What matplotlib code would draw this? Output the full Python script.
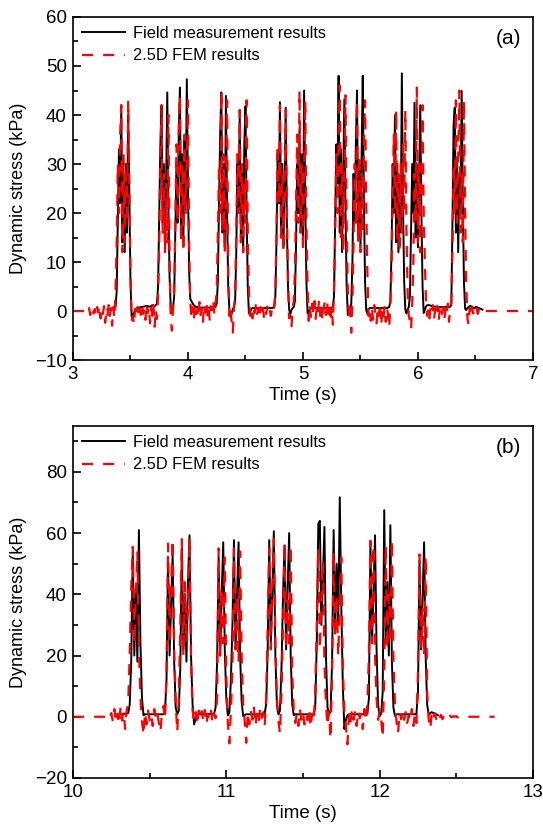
import matplotlib
matplotlib.use('Agg')
import matplotlib.pyplot as plt
import numpy as np

plt.rcParams['font.family'] = ['Liberation Sans', 'DejaVu Sans']

# ---- panel (a): sampled every 0.01 s ----
t0_black_a = 3.30
black_a = [
    0.3, 0.4, 0.3, 0.5, 0.4, 0.5, 0.6, 0.8, 4, 18,            # 3.30
    33, 22, 42, 14, 28, 12, 30, 16, 40, 24,                   # 3.40
    6, -1.2, -1.0, -0.4, 0.2, 0.5, 0.6, 0.7, 0.7, 0.8,        # 3.50
    0.8, 0.9, 0.9, 1.0, 1.0, 1.0, 0.9, 0.9, 1.0, 1.2,         # 3.60
    1.0, 1.0, 1.2, 1.5, 5, 20, 34, 42, 18, 30,                # 3.70
    14, 26, 44.6, 21, 7, 0.8, 0.3, 0.6, 3, 16,                # 3.80
    30, 18, 36, 45.6, 15, 32, 14, 35, 22, 47.3,               # 3.90
    25, 8, 2.5, 2.0, 1.6, 1.2, 1.0, 0.8, 0.8, 0.7,            # 4.00
    0.7, 0.7, 0.7, 0.7, 0.7, 0.7, 0.7, 0.7, 0.7, 0.7,         # 4.10
    0.7, 0.7, 0.7, 0.8, 0.9, 1.5, 6, 22, 36, 44.6,            # 4.20
    16, 30, 13, 43.9, 20, 5, 0.3, -1.2, -0.5, 0.4,            # 4.30
    0.8, 2, 12, 30, 20, 41, 15, 28, 12, 34,                   # 4.40
    41.8, 20, 5, -0.5, -0.3, 0.4, 0.6, 0.6, 0.6, 0.6,         # 4.50
    0.6, 0.6, 0.6, 0.6, 0.6, 0.6, 0.6, 0.6, 0.6, 0.6,         # 4.60
    0.6, 0.6, 0.6, 0.6, 0.7, 0.9, 3, 15, 32, 22,              # 4.70
    42.6, 15, 30, 13, 25, 41.5, 18, 5, 0.3, -0.6,             # 4.80
    0.2, 0.6, 0.8, 2, 14, 30, 20, 37, 16, 32,                 # 4.90
    14, 45, 22, 6, -0.5, -0.3, 0.4, 0.6, 0.6, 0.6,            # 5.00
    0.6, 0.6, 0.6, 0.6, 0.6, 0.6, 0.6, 0.6, 0.6, 0.6,         # 5.10
    0.6, 0.6, 0.6, 0.6, 0.6, 0.7, 0.9, 3, 18, 34,             # 5.20
    26, 48, 16, 33, 12, 28, 43.2, 20, 5, -0.8,                # 5.30
    -0.3, 0.4, 1.5, 10, 28, 18, 34, 45, 15, 30,               # 5.40
    13, 32, 48, 22, 6, 0.2, -0.6, 0.4, 0.6, 0.6,              # 5.50
    0.6, 0.6, 0.6, 0.6, 0.6, 0.6, 0.6, 0.6, 0.6, 0.6,         # 5.60
    0.6, 0.6, 0.6, 0.6, 0.7, 0.8, 2, 12, 30, 20,              # 5.70
    40, 14, 30, 12, 26, 16, 48.5, 22, 6, 0.3,                 # 5.80
    -0.5, 0.3, 0.8, 3, 16, 30, 20, 42.5, 15, 30,              # 5.90
    13, 26, 42, 20, 5, -0.4, 0.3, 0.9, 1.2, 1.2,              # 6.00
    1.2, 1.1, 1.0, 1.0, 0.9, 0.9, 0.9, 0.8, 0.8, 0.8,         # 6.10
    0.8, 0.8, 0.8, 0.8, 0.8, 0.8, 0.8, 0.8, 0.9, 1.2,         # 6.20
    18, 38, 41.5, 16, 30, 12, 28, 20, 44.9, 22,               # 6.30
    6, 0.5, 0.2, 0.6, 0.8, 1.0, 1.0, 0.9, 0.7, 0.5,           # 6.40
    0.8, 0.8, 0.7, 0.6, 0.5, 0.4, 0.3,                        # 6.50
]

t0_red_a = 3.00
red_a = [
    0, 0, 0, 0, 0, 0, 0, 0, 0, 0,                             # 3.00
    0, 0, 0.2, -0.4, 0.6, -0.8, 0.3, 0.9, -0.5, 0.4,          # 3.10
    -1.0, 0.8, -0.3, 1.1, -1.5, 0.5, -0.6, 1.0, -2.4, 0.2,    # 3.20
    -0.8, 1.2, -1.0, 0.6, -3.0, 0.8, -1.5, 4, 14, 30,         # 3.30
    20, 36, 42, 12, 32, 14, 28, 18, 43, 26,                   # 3.40
    8, -2, -1.0, -2.8, 0.4, -1.2, 0.8, -0.5, 1.0, -0.8,       # 3.50
    1.4, -0.6, 0.5, -1.8, 1.5, -0.4, 0.9, -2.5, 0.6, -1.0,    # 3.60
    1.2, -3.2, 0.4, -1.6, 3, 14, 30, 42, 16, 28,              # 3.70
    12, 26, 14, 40, 10, -1.5, -4.0, 0.5, 4, 18,               # 3.80
    34, 18, 38, 44, 14, 30, 12, 36, 20, 32,                   # 3.90
    43, 14, 2, -1.5, 0.8, -2.0, 1.2, -0.6, 0.4, -1.4,         # 4.00
    1.8, -0.8, 0.6, -2.2, 1.4, -0.3, 2.0, -1.2, 0.5, -2.0,    # 4.10
    1.0, 0.2, 2.2, -0.8, 1.5, 4, 16, 30, 20, 45,              # 4.20
    16, 32, 12, 26, 43, 8, -1.0, 0.8, -2.5, -4.4,             # 4.30
    0.5, 3, 16, 32, 20, 41, 14, 30, 12, 26,                   # 4.40
    18, 43, 16, 4, -1.0, 0.6, -1.5, 0.9, -0.4, 1.2,           # 4.50
    -0.8, 0.6, -1.4, 0.8, -0.5, 1.0, -1.2, 0.4, -0.6, 0.9,    # 4.60
    -0.3, 0.5, -1.0, 0.2, -0.6, 0.8, 4, 16, 34, 22,           # 4.70
    42, 14, 28, 12, 24, 41, 20, 6, -1.5, -1.0,                # 4.80
    -3.4, 0.6, 2, 8, 22, 36, 18, 45, 16, 30,                  # 4.90
    12, 28, 43, 18, 5, -2.0, 0.8, -1.2, 1.5, -0.5,            # 5.00
    2.0, -1.6, 0.8, -0.6, 2.4, -1.0, 1.2, -2.0, 0.6, 1.8,     # 5.10
    -0.8, 2.2, -1.5, 0.5, -2.2, 1.0, -2.8, 4, 16, 32,         # 5.20
    20, 36, 46, 14, 30, 12, 26, 44, 18, 4,                    # 5.30
    -1.5, 0.5, -4.4, 2, 14, 30, 18, 43, 14, 32,               # 5.40
    12, 28, 16, 34, 43, 22, 8, -1.0, 0.6, -2.0,               # 5.50
    0.5, -1.8, 1.2, -0.6, -2.5, 0.8, -1.0, 1.5, -3.0, 0.2,    # 5.60
    -1.4, 1.0, -2.2, 0.6, -0.8, -3.4, 1.2, 8, 24, 36,         # 5.70
    20, 41, 14, 28, 12, 30, 16, 34, 20, 41,                   # 5.80
    16, 4, -1.0, -2.0, -3.7, 1.5, 10, 28, 18, 45.6,           # 5.90
    14, 30, 12, 26, 42, 20, 10, 2, -1.0, 0.5,                 # 6.00
    -1.5, 0.8, -0.4, 1.2, -1.8, 0.5, -0.9, 1.0, -2.0, 0.3,    # 6.10
    1.2, -0.6, 0.8, -1.5, 0.4, -1.0, 1.5, -2.2, 0.5, 2,       # 6.20
    12, 30, 20, 43, 18, 32, 45, 16, 28, 14,                   # 6.30
    43, 20, 5, -1.5, -2.8, 0.6, -1.0, 0.8, -0.5, 0.4,         # 6.40
    -0.3, 0.5, -0.6, 0.3, -0.2, 0.2, -0.1, 0, 0, 0,           # 6.50
    0, 0, 0, 0, 0, 0, 0, 0, 0, 0,                             # 6.60
    0, 0, 0, 0, 0, 0, 0, 0, 0, 0,                             # 6.70
    0, 0, 0, 0, 0, 0, 0, 0, 0, 0,                             # 6.80
    0, 0, 0, 0, 0, 0, 0, 0, 0, 0,                             # 6.90
    0,                                                        # 7.00
]

# ---- panel (b): sampled every 0.01 s ----
t0_black_b = 10.30
black_b = [
    0.8, 0.8, 0.8, 0.9, 1.0, 1.0, 1.2, 4, 18, 54,             # 10.30
    20, 42, 18, 61, 24, 6, 0.5, 0.8, 0.8, 0.8,               # 10.40
    0.8, 0.8, 0.8, 0.8, 0.8, 0.8, 0.8, 0.8, 0.8, 0.8,         # 10.50
    1.5, 12, 52, 20, 36, 53, 18, 3, 0.8, 2,                   # 10.60
    16, 55, 22, 40, 18, 44, 59.3, 20, 4, -2.5,                # 10.70
    -0.5, 0.6, 0.8, 0.8, 0.8, 0.8, 0.8, 0.8, 0.8, 0.9,        # 10.80
    0.9, 0.9, 1.0, 3, 18, 52, 20, 40, 57, 22,                 # 10.90
    6, 0.4, 1.5, 12, 30, 57.7, 22, 40, 57, 20,                # 11.00
    5, 0.2, 0.6, 0.8, 0.8, 0.8, 0.8, 0.8, 0.8, 0.8,           # 11.10
    0.8, 0.8, 0.8, 0.8, 0.8, 1.0, 4, 22, 57.7, 24,            # 11.20
    40, 60.6, 20, 4, 0.8, 2, 16, 40, 56, 22,                  # 11.30
    42, 60, 20, 4, 0.5, 0.8, 0.8, 0.8, 0.8, 0.8,              # 11.40
    0.8, 0.8, 0.8, 0.8, 0.8, 0.8, 0.9, 1.0, 3, 24,            # 11.50
    63, 64, 30, 45, 62, 20, 3, 1.0, 1.5, 18,                  # 11.60
    61, 28, 50, 30, 71.7, 36, 10, -4, -1, 0.5,                # 11.70
    0.8, 0.8, 0.8, 0.8, 0.8, 0.8, 0.8, 0.8, 0.8, 0.8,         # 11.80
    0.8, 0.8, 1.0, 6, 57, 24, 40, 59.3, 22, 4,                # 11.90
    0.2, 1.0, 8, 67.5, 24, 44, 20, 62.6, 18, 3,               # 12.00
    0.3, 0.8, 0.8, 0.8, 0.8, 0.8, 0.8, 0.8, 0.8, 0.8,         # 12.10
    0.8, 0.8, 0.8, 0.8, 1.0, 8, 51, 22, 38, 57,               # 12.20
    20, 4, 0.6, 1.2, 1.5, 1.2, 1.0, 0.8, 0.5,                 # 12.30
]

t0_red_b = 10.00
red_b = [
    0, 0, 0, 0, 0, 0, 0, 0, 0, 0,                             # 10.00
    0, 0, 0, 0, 0, 0, 0, 0, 0, 0,                             # 10.10
    0, 0, 0, 0.6, -0.5, 1.2, -1.5, 2.5, -2.0, 1.0,            # 10.20
    -2.5, 3.0, -1.2, 1.8, -4.0, 2.0, 4, 20, 42, 55.5,         # 10.30
    24, 40, 54, 22, 6, -1.5, -6, 1.5, -2.5, 2.0,              # 10.40
    -1.2, 0.8, -3.0, 2.5, -0.5, 1.5, -2.0, -5.0, 1.0, 3.5,    # 10.50
    -1.0, 14, 56.6, 24, 42, 58, 22, 5, -5, 6,                 # 10.60
    30, 58, 20, 44, 24, 36, 58.5, 18, 2, -1.5,                # 10.70
    1.5, -2.8, 2.0, -0.6, 1.8, -1.5, 2.2, -2.5, 0.8, -1.0,    # 10.80
    2.0, -2.0, 1.2, -0.5, 6, 55, 20, 42, 24, 52,              # 10.90
    14, -2, -8.7, 2, 16, 55, 22, 40, 18, 54,                  # 11.00
    20, 4, -1.5, -8.5, 1.5, -2.5, 2.0, -1.0, 3.0, -3.0,       # 11.10
    0.8, -2.2, 2.5, -0.5, 1.5, -3.0, 6, 30, 55, 22,           # 11.20
    40, 58, 24, 6, -1.5, -5.5, 8, 30, 57, 22,                 # 11.30
    38, 24, 56, 14, 2, -2.0, 1.0, -3.0, 2.5, -1.0,            # 11.40
    1.5, -2.5, 0.8, -1.2, 2.8, -3.5, 1.0, -1.5, 8, 30,        # 11.50
    55, 22, 36, 51, 18, 4, -3, 1.5, -7.3, 14,                 # 11.60
    54, 26, 40, 20, 36, 52, 16, 2, -3, -9,                    # 11.70
    1.0, -2.0, 2.5, -1.0, 1.5, -3.0, 2.0, -0.5, 1.0, -4.0,    # 11.80
    2.5, -1.5, 4, 20, 57.5, 24, 56, 20, 6, -1.0,              # 11.90
    2.0, -1.0, -6.8, 14, 56, 22, 40, 24, 58, 18,              # 12.00
    4, -1.5, -5.5, 1.5, -0.8, 2.0, -1.0, 1.5, -2.0, 0.5,      # 12.10
    -1.5, 2.5, -3.0, 1.0, -2.0, 14, 53, 22, 36, 20,           # 12.20
    52.5, 8, -1.0, -4.0, 1.5, -0.5, 1.2, -1.0, 0.8, -0.4,     # 12.30
    0.6, -0.8, 0.5, -0.3, 0.4, -0.2, 0.3, -0.2, 0.2, 0,       # 12.40
    0.2, -0.2, 0.1, 0, 0, 0, 0, 0, 0, 0,                      # 12.50
    0, 0, 0, 0, 0, 0, 0, 0, 0, 0,                             # 12.60
    0, 0, 0, 0, 0, 0,                                         # 12.70
]

dt = 0.01


def times(t0, vals):
    return t0 + dt * np.arange(len(vals))


def style_axes(ax, xlim, ylim, xmaj, xmin, ymaj, ymin, tag):
    ax.set_xlim(*xlim)
    ax.set_ylim(*ylim)
    ax.xaxis.set_major_locator(plt.MultipleLocator(xmaj))
    ax.xaxis.set_minor_locator(plt.MultipleLocator(xmin))
    ax.yaxis.set_major_locator(plt.MultipleLocator(ymaj))
    ax.yaxis.set_minor_locator(plt.MultipleLocator(ymin))
    ax.tick_params(which='both', direction='in', top=False, right=False,
                   labelsize=13.5, width=1.2)
    ax.tick_params(axis='x', pad=4.5)
    ax.tick_params(axis='y', pad=4.5)
    ax.tick_params(which='major', length=5.8)
    ax.tick_params(which='minor', length=3.6)
    for s in ax.spines.values():
        s.set_linewidth(1.2)
    ax.set_xlabel('Time (s)', fontsize=13.5)
    ax.set_ylabel('Dynamic stress (kPa)', fontsize=13)
    ax.xaxis.set_label_coords(0.5, -0.078)
    ax.yaxis.set_label_coords(-0.1, 0.5)
    ax.text(0.975, 0.965, tag, transform=ax.transAxes, ha='right', va='top',
            fontsize=15)
    ax.legend(loc='upper left', frameon=False, fontsize=11.8,
              handlelength=2.6, handletextpad=0.5, labelspacing=0.45,
              borderaxespad=0.3, borderpad=0.25)


fig = plt.figure(figsize=(5.43, 8.25), dpi=100)
ax_a = fig.add_axes([0.1344, 0.5636, 0.8471, 0.4158])
ax_b = fig.add_axes([0.1344, 0.0570, 0.8471, 0.4267])

for ax, tb, vb, tr, vr in [(ax_a, t0_black_a, black_a, t0_red_a, red_a),
                           (ax_b, t0_black_b, black_b, t0_red_b, red_b)]:
    ax.plot(times(tb, vb), vb, '-', color='black', linewidth=1.4,
            label='Field measurement results')
    ax.plot(times(tr, vr), vr, color='#ff0000', linewidth=1.6,
            linestyle=(0, (5, 4.5)), label='2.5D FEM results')

style_axes(ax_a, (3, 7), (-10, 60), 1, 0.5, 10, 5, '(a)')
style_axes(ax_b, (10, 13), (-20, 95), 1, 0.5, 20, 10, '(b)')

fig.savefig('out.png', dpi=100)
